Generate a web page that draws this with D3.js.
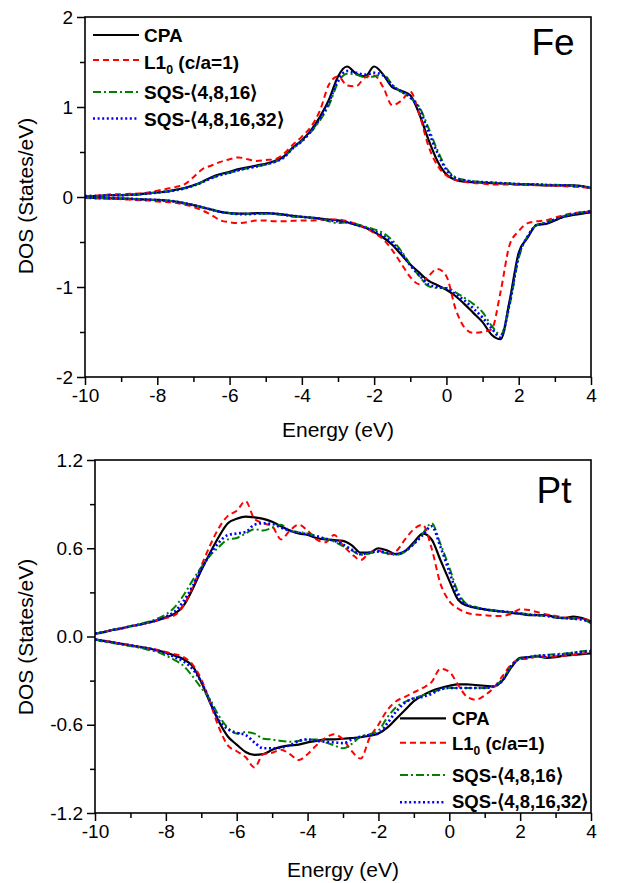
<!DOCTYPE html>
<html>
<head>
<meta charset="utf-8">
<script src="https://cdn.jsdelivr.net/npm/d3@7/dist/d3.min.js"></script>
<style>
  html, body { margin: 0; padding: 0; background: #fff; }
  svg { display: block; }
  text { font-family: "Liberation Sans", Arial, sans-serif; }
</style>
</head>
<body>
<svg id="chart" width="617" height="883"></svg>
<script>
// ---------------- DATA ----------------
const energy = [-10,-9.75,-9.5,-9.25,-9,-8.75,-8.5,-8.25,-8,-7.75,
  -7.5,-7.25,-7,-6.75,-6.5,-6.25,-6,-5.75,-5.5,-5.25,
  -5,-4.75,-4.5,-4.25,-4,-3.75,-3.5,-3.25,-3,-2.75,
  -2.5,-2.25,-2,-1.75,-1.5,-1.25,-1,-0.75,-0.5,-0.25,
  0,0.25,0.5,0.75,1,1.25,1.5,1.75,2,2.25,
  2.5,2.75,3,3.25,3.5,3.75,4];

const seriesNames = ["CPA", "L1_0 (c/a=1)", "SQS-⟨4,8,16⟩", "SQS-⟨4,8,16,32⟩"];

// Fe, spin up
const feCpaUp = [0.01,0.01,0.015,0.02,0.02,0.025,0.03,0.04,0.05,0.06,
  0.08,0.10,0.13,0.17,0.22,0.255,0.28,0.31,0.33,0.35,
  0.37,0.40,0.45,0.55,0.63,0.74,0.89,1.08,1.34,1.45,
  1.37,1.34,1.45,1.36,1.22,1.18,1.13,0.92,0.64,0.40,
  0.25,0.19,0.17,0.165,0.16,0.155,0.15,0.145,0.14,0.14,
  0.135,0.13,0.13,0.13,0.13,0.12,0.10];
const feL10Up = [0.01,0.015,0.02,0.03,0.03,0.035,0.04,0.05,0.07,0.09,
  0.11,0.14,0.22,0.31,0.35,0.39,0.42,0.44,0.42,0.40,
  0.41,0.42,0.48,0.58,0.67,0.78,0.96,1.25,1.34,1.24,
  1.23,1.33,1.35,1.22,1.02,1.07,1.17,0.92,0.57,0.35,
  0.24,0.19,0.17,0.155,0.15,0.14,0.14,0.14,0.135,0.135,
  0.13,0.13,0.125,0.12,0.115,0.11,0.10];
const feSqs1Up = [0.01,0.01,0.015,0.02,0.02,0.025,0.03,0.04,0.05,0.06,
  0.075,0.095,0.125,0.165,0.21,0.245,0.27,0.295,0.32,0.34,
  0.36,0.39,0.44,0.54,0.62,0.72,0.85,1.02,1.27,1.37,
  1.36,1.33,1.34,1.36,1.25,1.17,1.10,1.0,0.77,0.52,
  0.32,0.22,0.19,0.175,0.165,0.16,0.155,0.15,0.145,0.14,
  0.14,0.135,0.135,0.13,0.125,0.12,0.095];
const feSqs2Up = [0.01,0.01,0.015,0.02,0.02,0.025,0.03,0.04,0.05,0.06,
  0.075,0.095,0.125,0.165,0.21,0.245,0.27,0.30,0.32,0.34,
  0.365,0.39,0.44,0.54,0.62,0.73,0.87,1.05,1.30,1.40,
  1.38,1.36,1.38,1.35,1.24,1.17,1.11,0.98,0.73,0.49,
  0.30,0.21,0.185,0.17,0.165,0.16,0.155,0.15,0.145,0.14,
  0.14,0.135,0.13,0.13,0.125,0.12,0.10];

// Fe, spin down
const feCpaDn = [-0.005,-0.01,-0.012,-0.015,-0.018,-0.02,-0.025,-0.03,-0.033,-0.04,
  -0.05,-0.07,-0.09,-0.115,-0.14,-0.165,-0.18,-0.185,-0.185,-0.18,
  -0.18,-0.185,-0.195,-0.21,-0.22,-0.23,-0.24,-0.25,-0.26,-0.28,
  -0.31,-0.34,-0.39,-0.45,-0.53,-0.64,-0.75,-0.84,-0.93,-0.98,
  -1.03,-1.10,-1.19,-1.29,-1.39,-1.53,-1.58,-1.15,-0.62,-0.45,
  -0.31,-0.30,-0.26,-0.22,-0.20,-0.185,-0.17];
const feL10Dn = [-0.01,-0.015,-0.017,-0.02,-0.025,-0.03,-0.035,-0.04,-0.05,-0.055,
  -0.065,-0.085,-0.11,-0.15,-0.20,-0.26,-0.28,-0.29,-0.28,-0.26,
  -0.26,-0.27,-0.27,-0.265,-0.26,-0.26,-0.255,-0.25,-0.25,-0.27,
  -0.30,-0.34,-0.40,-0.47,-0.59,-0.74,-0.89,-0.97,-0.88,-0.80,
  -0.88,-1.24,-1.45,-1.51,-1.50,-1.47,-1.05,-0.53,-0.38,-0.29,
  -0.27,-0.26,-0.23,-0.20,-0.18,-0.17,-0.16];
const feSqs1Dn = [-0.005,-0.01,-0.012,-0.015,-0.018,-0.02,-0.025,-0.03,-0.035,-0.04,
  -0.05,-0.07,-0.09,-0.115,-0.14,-0.165,-0.18,-0.19,-0.19,-0.185,
  -0.185,-0.19,-0.20,-0.22,-0.22,-0.23,-0.24,-0.27,-0.29,-0.28,
  -0.30,-0.33,-0.36,-0.40,-0.48,-0.60,-0.75,-0.88,-0.99,-1.01,
  -1.01,-1.06,-1.12,-1.19,-1.28,-1.43,-1.53,-1.20,-0.68,-0.43,
  -0.31,-0.28,-0.25,-0.21,-0.19,-0.17,-0.15];
const feSqs2Dn = [-0.005,-0.01,-0.012,-0.015,-0.018,-0.02,-0.025,-0.03,-0.034,-0.04,
  -0.05,-0.07,-0.09,-0.115,-0.14,-0.165,-0.18,-0.19,-0.19,-0.185,
  -0.18,-0.185,-0.195,-0.21,-0.22,-0.23,-0.24,-0.26,-0.27,-0.28,
  -0.31,-0.34,-0.38,-0.43,-0.51,-0.62,-0.76,-0.87,-0.97,-1.0,
  -1.02,-1.08,-1.15,-1.24,-1.34,-1.46,-1.56,-1.18,-0.65,-0.44,
  -0.31,-0.29,-0.25,-0.22,-0.19,-0.175,-0.16];

// Pt, spin up
const ptCpaUp = [0.02,0.03,0.045,0.055,0.07,0.08,0.095,0.11,0.13,0.155,
  0.21,0.32,0.45,0.57,0.68,0.77,0.80,0.815,0.81,0.80,
  0.78,0.75,0.72,0.70,0.69,0.67,0.66,0.655,0.65,0.62,
  0.57,0.57,0.60,0.585,0.56,0.58,0.64,0.70,0.66,0.52,
  0.38,0.25,0.21,0.195,0.185,0.175,0.17,0.16,0.155,0.145,
  0.145,0.145,0.13,0.125,0.135,0.125,0.10];
const ptL10Up = [0.02,0.03,0.045,0.055,0.07,0.08,0.095,0.11,0.125,0.145,
  0.21,0.33,0.48,0.62,0.74,0.82,0.855,0.92,0.80,0.77,
  0.75,0.66,0.72,0.76,0.72,0.66,0.64,0.69,0.62,0.56,
  0.52,0.57,0.585,0.56,0.58,0.66,0.73,0.76,0.60,0.36,
  0.24,0.19,0.16,0.15,0.145,0.14,0.14,0.155,0.185,0.18,
  0.165,0.15,0.14,0.13,0.125,0.12,0.11];
const ptSqs1Up = [0.02,0.03,0.045,0.055,0.07,0.085,0.10,0.12,0.15,0.20,
  0.28,0.38,0.47,0.55,0.61,0.66,0.67,0.70,0.73,0.72,
  0.74,0.76,0.72,0.71,0.70,0.685,0.665,0.645,0.615,0.585,
  0.555,0.565,0.575,0.565,0.555,0.575,0.63,0.70,0.77,0.63,
  0.47,0.30,0.22,0.20,0.185,0.18,0.17,0.165,0.16,0.15,
  0.145,0.14,0.13,0.125,0.12,0.115,0.09];
const ptSqs2Up = [0.02,0.03,0.045,0.055,0.07,0.08,0.095,0.11,0.135,0.17,
  0.24,0.34,0.46,0.56,0.64,0.69,0.70,0.71,0.76,0.77,
  0.765,0.74,0.72,0.705,0.695,0.68,0.665,0.65,0.625,0.59,
  0.56,0.57,0.58,0.57,0.56,0.58,0.63,0.69,0.75,0.61,
  0.44,0.28,0.215,0.195,0.185,0.175,0.17,0.165,0.155,0.15,
  0.145,0.14,0.13,0.125,0.12,0.115,0.10];

// Pt, spin down
const ptCpaDn = [-0.02,-0.03,-0.04,-0.05,-0.06,-0.07,-0.08,-0.095,-0.11,-0.13,
  -0.155,-0.20,-0.31,-0.45,-0.58,-0.68,-0.735,-0.785,-0.805,-0.80,
  -0.77,-0.75,-0.74,-0.735,-0.72,-0.71,-0.70,-0.70,-0.695,-0.69,
  -0.685,-0.675,-0.66,-0.62,-0.56,-0.50,-0.44,-0.40,-0.37,-0.35,
  -0.335,-0.325,-0.325,-0.33,-0.335,-0.34,-0.30,-0.21,-0.145,-0.14,
  -0.135,-0.145,-0.14,-0.13,-0.125,-0.12,-0.115];
const ptL10Dn = [-0.02,-0.03,-0.04,-0.05,-0.06,-0.07,-0.08,-0.09,-0.105,-0.12,
  -0.14,-0.19,-0.29,-0.45,-0.62,-0.74,-0.78,-0.82,-0.89,-0.80,
  -0.79,-0.77,-0.80,-0.84,-0.80,-0.74,-0.69,-0.665,-0.70,-0.78,
  -0.83,-0.69,-0.60,-0.50,-0.44,-0.41,-0.38,-0.35,-0.31,-0.22,
  -0.24,-0.33,-0.41,-0.43,-0.40,-0.35,-0.27,-0.19,-0.155,-0.15,
  -0.135,-0.14,-0.135,-0.13,-0.125,-0.115,-0.11];
const ptSqs1Dn = [-0.02,-0.035,-0.045,-0.055,-0.065,-0.075,-0.09,-0.105,-0.13,-0.16,
  -0.20,-0.27,-0.35,-0.43,-0.54,-0.62,-0.66,-0.65,-0.66,-0.695,
  -0.70,-0.71,-0.715,-0.71,-0.70,-0.70,-0.72,-0.74,-0.76,-0.73,
  -0.68,-0.665,-0.64,-0.55,-0.48,-0.445,-0.42,-0.40,-0.38,-0.36,
  -0.35,-0.35,-0.35,-0.35,-0.35,-0.34,-0.29,-0.20,-0.15,-0.14,
  -0.13,-0.125,-0.12,-0.115,-0.11,-0.10,-0.095];
const ptSqs2Dn = [-0.02,-0.03,-0.04,-0.05,-0.06,-0.07,-0.08,-0.095,-0.115,-0.14,
  -0.17,-0.22,-0.31,-0.44,-0.57,-0.63,-0.655,-0.67,-0.72,-0.76,
  -0.76,-0.755,-0.74,-0.71,-0.70,-0.71,-0.715,-0.72,-0.725,-0.70,
  -0.68,-0.67,-0.66,-0.59,-0.51,-0.45,-0.42,-0.41,-0.39,-0.36,
  -0.35,-0.35,-0.35,-0.35,-0.35,-0.34,-0.30,-0.20,-0.15,-0.14,
  -0.13,-0.13,-0.125,-0.12,-0.11,-0.105,-0.10];

// Ticks
const xTicks = [-10,-8,-6,-4,-2,0,2,4];
const xMinorTicks = [-9,-7,-5,-3,-1,1,3];
const feYTicks = [-2,-1,0,1,2];
const feYMinor = [-1.5,-0.5,0.5,1.5];
const ptYTicks = [-1.2,-0.6,0.0,0.6,1.2];
const ptYMinor = [-0.9,-0.3,0.3,0.9];

// ---------------- DRAW ----------------
const svg = d3.select("#chart");
const styles = [
  {color: "#000000", dash: null, width: 2.2},
  {color: "#ff0000", dash: "6,4", width: 2},
  {color: "#008000", dash: "8,3,2,3", width: 2},
  {color: "#0000ff", dash: "2,2.6", width: 2.6}
];

const panels = [
  {
    label: "Fe", x0: 85, x1: 591, y0: 17, y1: 377,
    yDomain: [-2, 2], yTicks: feYTicks, yMinor: feYMinor,
    yFmt: d => (d < 0 ? "-" : "") + Math.abs(d),
    up: [feCpaUp, feL10Up, feSqs1Up, feSqs2Up],
    dn: [feCpaDn, feL10Dn, feSqs1Dn, feSqs2Dn],
    labelX: 553, labelY: 55,
    legend: {lx: 93, tx: 144, lineY: [35, 60, 92, 118.5], textY: [42.3, 68.5, 99, 125.6], fs: 19},
    xTitleY: 437, yTitleY: 196
  },
  {
    label: "Pt", x0: 95, x1: 591, y0: 460, y1: 813,
    yDomain: [-1.2, 1.2], yTicks: ptYTicks, yMinor: ptYMinor,
    yFmt: d => (d < 0 ? "-" : "") + Math.abs(d).toFixed(1),
    up: [ptCpaUp, ptL10Up, ptSqs1Up, ptSqs2Up],
    dn: [ptCpaDn, ptL10Dn, ptSqs1Dn, ptSqs2Dn],
    labelX: 554, labelY: 503,
    legend: {lx: 400, tx: 452, lineY: [718.3, 742.7, 775, 802.3], textY: [725, 750, 781.7, 808.3], fs: 18.5},
    xTitleY: 877, yTitleY: 637
  }
];

panels.forEach((p, pi) => {
  const x = d3.scaleLinear().domain([-10, 4]).range([p.x0, p.x1]);
  const y = d3.scaleLinear().domain(p.yDomain).range([p.y1, p.y0]);
  const g = svg.append("g");

  const clipId = "clip" + pi;
  svg.append("clipPath").attr("id", clipId)
    .append("rect").attr("x", p.x0).attr("y", p.y0)
    .attr("width", p.x1 - p.x0).attr("height", p.y1 - p.y0);

  const line = d3.line().x((d, i) => x(energy[i])).y(d => y(d)).curve(d3.curveMonotoneX);
  const cg = g.append("g").attr("clip-path", `url(#${clipId})`);
  [p.up, p.dn].forEach(set => {
    set.forEach((vals, si) => {
      const s = styles[si];
      cg.append("path").datum(vals)
        .attr("d", line)
        .attr("fill", "none")
        .attr("stroke", s.color)
        .attr("stroke-width", s.width)
        .attr("stroke-dasharray", s.dash)
        .attr("stroke-linejoin", "round");
    });
  });

  // frame
  g.append("rect").attr("x", p.x0).attr("y", p.y0)
    .attr("width", p.x1 - p.x0).attr("height", p.y1 - p.y0)
    .attr("fill", "none").attr("stroke", "#000").attr("stroke-width", 1.6);

  // axes
  const styleAxis = sel => {
    sel.select(".domain").remove();
    sel.selectAll("line").attr("stroke", "#000").attr("stroke-width", 1.5);
    sel.selectAll("text").attr("font-size", 19).attr("font-family", "Liberation Sans, Arial, sans-serif").attr("fill", "#000");
  };
  const xAxis = g.append("g").attr("transform", `translate(0,${p.y1})`)
    .call(d3.axisBottom(x).tickValues(xTicks).tickSize(8).tickSizeOuter(0).tickPadding(4)
      .tickFormat(d => (d < 0 ? "-" : "") + Math.abs(d)));
  styleAxis(xAxis);
  const xAxisMinor = g.append("g").attr("transform", `translate(0,${p.y1})`)
    .call(d3.axisBottom(x).tickValues(xMinorTicks).tickSize(5).tickSizeOuter(0).tickFormat(""));
  styleAxis(xAxisMinor);

  const yAxis = g.append("g").attr("transform", `translate(${p.x0},0)`)
    .call(d3.axisLeft(y).tickValues(p.yTicks).tickSize(8).tickSizeOuter(0).tickPadding(4).tickFormat(p.yFmt));
  styleAxis(yAxis);
  const yAxisMinor = g.append("g").attr("transform", `translate(${p.x0},0)`)
    .call(d3.axisLeft(y).tickValues(p.yMinor).tickSize(5).tickSizeOuter(0).tickFormat(""));
  styleAxis(yAxisMinor);

  // titles
  g.append("text").attr("x", (p.x0 + p.x1) / 2).attr("y", p.xTitleY)
    .attr("text-anchor", "middle").attr("font-size", 21).text("Energy (eV)");
  g.append("text").attr("transform", `translate(33,${p.yTitleY}) rotate(-90)`)
    .attr("text-anchor", "middle").attr("font-size", 21).text("DOS (States/eV)");

  // panel label
  g.append("text").attr("x", p.labelX).attr("y", p.labelY)
    .attr("text-anchor", "middle").attr("font-size", 37).text(p.label);

  // legend
  const L = p.legend;
  seriesNames.forEach((name, si) => {
    const s = styles[si];
    g.append("line").attr("x1", L.lx).attr("x2", L.lx + 46)
      .attr("y1", L.lineY[si]).attr("y2", L.lineY[si])
      .attr("stroke", s.color).attr("stroke-width", s.width)
      .attr("stroke-dasharray", s.dash);
    const t = g.append("text").attr("x", L.tx).attr("y", L.textY[si])
      .attr("font-size", L.fs).attr("font-weight", "bold");
    if (name.startsWith("L1_0")) {
      t.append("tspan").text("L1");
      t.append("tspan").attr("dy", 5).attr("font-size", L.fs * 0.65).text("0");
      t.append("tspan").attr("dy", -5).text(" (c/a=1)");
    } else {
      t.text(name);
    }
  });
});
</script>
</body>
</html>
